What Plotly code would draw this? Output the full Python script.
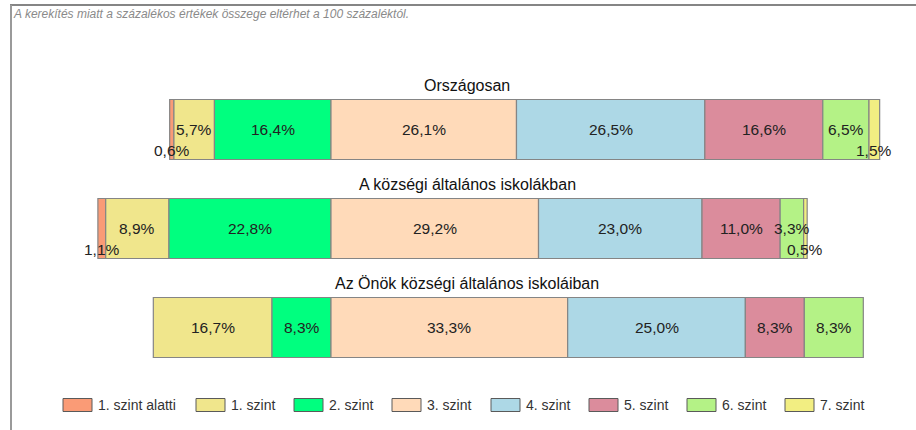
import plotly.graph_objects as go

# ---------------- data ----------------
groups = ["Országosan", "A községi általános iskolákban", "Az Önök községi általános iskoláiban"]
levels = ["1. szint alatti", "1. szint", "2. szint", "3. szint", "4. szint", "5. szint", "6. szint", "7. szint"]

szint_alatti = [0.6, 1.1, 0.0]
szint_1 = [5.7, 8.9, 16.7]
szint_2 = [16.4, 22.8, 8.3]
szint_3 = [26.1, 29.2, 33.3]
szint_4 = [26.5, 23.0, 25.0]
szint_5 = [16.6, 11.0, 8.3]
szint_6 = [6.5, 3.3, 8.3]
szint_7 = [1.5, 0.5, 0.0]

note_text = "A kerekítés miatt a százalékos értékek összege eltérhet a 100 százaléktól."

# ---------------- style ----------------
colors = ["#FA9B76", "#F0E68C", "#00FF7F", "#FFDAB9", "#ADD8E6", "#DB8C9C", "#B4F286", "#F2EE82"]
series = [szint_alatti, szint_1, szint_2, szint_3, szint_4, szint_5, szint_6, szint_7]
n_left = 3  # levels drawn left of the zero line (below 3. szint)

W, H = 916, 430
FONT = "Liberation Sans, Arial, sans-serif"


def px_x(p):
    return p / W


def px_y(p):
    return 1 - p / H


fig = go.Figure()

# bases: each bar starts at -(sum of the lower levels), so the 2./3. boundary is zero
left_totals = [sum(series[k][g] for k in range(n_left)) for g in range(len(groups))]
bases = []
running = [-t for t in left_totals]
for k, vals in enumerate(series):
    bases.append(list(running))
    running = [r + v for r, v in zip(running, vals)]

annotations = []
for k, (name, vals) in enumerate(zip(levels, series)):
    fig.add_trace(go.Bar(
        y=groups,
        x=[v if v > 0 else None for v in vals],
        base=bases[k],
        orientation="h",
        name=name,
        marker=dict(color=colors[k], line=dict(color="#858585", width=1.2)),
        width=0.606,
        showlegend=False,
        hoverinfo="skip",
    ))
    for g, v in enumerate(vals):
        if v <= 0:
            continue
        annotations.append(dict(
            x=bases[k][g] + v / 2, y=groups[g], xref="x", yref="y",
            text=f"{v:.1f}".replace(".", ",") + "%",
            showarrow=False, xanchor="center", yanchor="middle",
            yshift=-21 if v < 2 else 0,
            font=dict(family=FONT, size=15.5, color="#222222"),
        ))

# group titles above each bar
for g in groups:
    annotations.append(dict(
        x=px_x(467), y=g, xref="paper", yref="y", yshift=44,
        text=g, showarrow=False, xanchor="center", yanchor="middle",
        font=dict(family=FONT, size=16, color="#111111"),
    ))

# note
annotations.append(dict(
    x=px_x(11), y=px_y(14), xref="paper", yref="paper", text=note_text,
    showarrow=False, xanchor="left", yanchor="middle",
    font=dict(family=FONT, size=12, color="#8a8a8a", style="italic"),
))

shapes = []
# frame lines
shapes.append(dict(type="line", xref="paper", yref="paper", x0=px_x(10), x1=1, y0=px_y(5), y1=px_y(5),
                   line=dict(color="#858585", width=2)))
shapes.append(dict(type="line", xref="paper", yref="paper", x0=px_x(11), x1=px_x(11), y0=px_y(5), y1=0,
                   line=dict(color="#9a9a9a", width=2)))

# legend (drawn from level names and colours)
legend_x = [63, 196, 294, 392, 491, 589, 687, 785]
for k, name in enumerate(levels):
    x0 = legend_x[k]
    shapes.append(dict(type="rect", xref="paper", yref="paper",
                       x0=px_x(x0), x1=px_x(x0 + 29), y0=px_y(411.5), y1=px_y(398.5),
                       fillcolor=colors[k], line=dict(color="#5a5a5a", width=1)))
    annotations.append(dict(
        x=px_x(x0 + 33), y=px_y(405), xref="paper", yref="paper", text=name,
        showarrow=False, xanchor="left", yanchor="middle",
        font=dict(family=FONT, size=14, color="#333333"),
    ))

zero_px = 331
scale = 7.107  # px per percent
fig.update_layout(
    width=W, height=H,
    margin=dict(l=0, r=0, t=0, b=0),
    paper_bgcolor="white", plot_bgcolor="white",
    barmode="overlay",
    xaxis=dict(range=[-zero_px / scale, (W - zero_px) / scale], visible=False, fixedrange=True),
    yaxis=dict(type="category", categoryarray=groups, range=[2.5, -0.5], visible=False,
               domain=[(H - 377) / H, (H - 80) / H], fixedrange=True),
    annotations=annotations,
    shapes=shapes,
    showlegend=False,
)

fig.write_html("out.html", config={"displayModeBar": False},
               post_script="document.body.style.margin='0';document.body.style.overflow='hidden';")
